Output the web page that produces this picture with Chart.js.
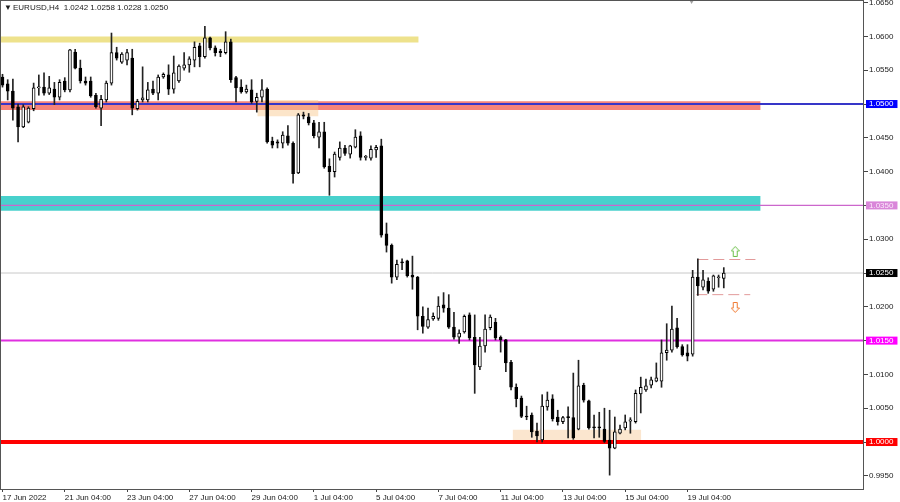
<!DOCTYPE html>
<html>
<head>
<meta charset="utf-8">
<script src="https://cdn.jsdelivr.net/npm/chart.js@4.4.1/dist/chart.umd.min.js"></script>
<style>
  html, body { margin: 0; padding: 0; background: #fff; }
  #wrap { width: 900px; height: 502px; }
</style>
</head>
<body>
<div id="wrap"><canvas id="c" width="900" height="502"></canvas></div>
<script>
const symbol = 'EURUSD,H4';

// x axis labels, one every 12 bars (H4)
const xLabels = ['17 Jun 2022', '21 Jun 04:00', '23 Jun 04:00', '27 Jun 04:00', '29 Jun 04:00', '1 Jul 04:00',
  '5 Jul 04:00', '7 Jul 04:00', '11 Jul 04:00', '13 Jul 04:00', '15 Jul 04:00', '19 Jul 04:00'];
const xLabelBars = [0, 12, 24, 36, 48, 60, 72, 84, 96, 108, 120, 132];

const yTicks = [0.9950, 1.0000, 1.0050, 1.0100, 1.0150, 1.0200, 1.0250, 1.0300, 1.0350,
  1.0400, 1.0450, 1.0500, 1.0550, 1.0600, 1.0650];

const opens = [
  1.0540, 1.0530, 1.0519, 1.0496, 1.0466, 1.0473, 1.0493, 1.0524, 1.0525, 1.0516,
  1.0522, 1.0510, 1.0534, 1.0521, 1.0577, 1.0553, 1.0534, 1.0534, 1.0513, 1.0494,
  1.0506, 1.0531, 1.0576, 1.0562, 1.0565, 1.0568, 1.0493, 1.0506, 1.0506, 1.0522,
  1.0516, 1.0540, 1.0543, 1.0522, 1.0534, 1.0553, 1.0558, 1.0565, 1.0586, 1.0570,
  1.0598, 1.0583, 1.0578, 1.0576, 1.0592, 1.0539, 1.0525, 1.0518, 1.0521, 1.0504,
  1.0510, 1.0522, 1.0445, 1.0444, 1.0442, 1.0453, 1.0442, 1.0398, 1.0484, 1.0481,
  1.0472, 1.0451, 1.0459, 1.0408, 1.0400, 1.0421, 1.0435, 1.0426, 1.0436, 1.0453,
  1.0421, 1.0420, 1.0432, 1.0438, 1.0308, 1.0291, 1.0244, 1.0266, 1.0268, 1.0247,
  1.0244, 1.0186, 1.0170, 1.0182, 1.0183, 1.0203, 1.0198, 1.0170, 1.0155, 1.0163,
  1.0188, 1.0155, 1.0111, 1.0142, 1.0169, 1.0177, 1.0155, 1.0151, 1.0118, 1.0081,
  1.0065, 1.0038, 1.0040, 1.0016, 1.0003, 1.0052, 1.0064, 1.0037, 1.0030, 1.0037,
  1.0036, 1.0019, 1.0084, 1.0061, 1.0022, 1.0022, 1.0019, 1.0003, 0.9991, 1.0013,
  1.0021, 1.0031, 1.0030, 1.0071, 1.0077, 1.0084, 1.0090, 1.0090, 1.0132, 1.0136,
  1.0169, 1.0141, 1.0132, 1.0130, 1.0244, 1.0229, 1.0238, 1.0226, 1.0243, 1.0242
];
const highs = [
  1.0544, 1.0536, 1.0537, 1.0500, 1.0499, 1.0496, 1.0531, 1.0543, 1.0546, 1.0541,
  1.0532, 1.0536, 1.0539, 1.0581, 1.0581, 1.0565, 1.0540, 1.0540, 1.0516, 1.0513,
  1.0534, 1.0605, 1.0584, 1.0576, 1.0581, 1.0581, 1.0507, 1.0555, 1.0532, 1.0534,
  1.0543, 1.0546, 1.0558, 1.0571, 1.0558, 1.0576, 1.0570, 1.0592, 1.0590, 1.0615,
  1.0599, 1.0586, 1.0581, 1.0607, 1.0596, 1.0541, 1.0536, 1.0528, 1.0536, 1.0516,
  1.0536, 1.0524, 1.0451, 1.0447, 1.0459, 1.0468, 1.0444, 1.0486, 1.0488, 1.0486,
  1.0476, 1.0473, 1.0473, 1.0419, 1.0429, 1.0444, 1.0439, 1.0439, 1.0462, 1.0459,
  1.0424, 1.0438, 1.0439, 1.0448, 1.0324, 1.0293, 1.0269, 1.0271, 1.0269, 1.0275,
  1.0245, 1.0200, 1.0198, 1.0191, 1.0215, 1.0221, 1.0218, 1.0192, 1.0166, 1.0188,
  1.0191, 1.0188, 1.0155, 1.0188, 1.0188, 1.0183, 1.0157, 1.0152, 1.0121, 1.0086,
  1.0068, 1.0053, 1.0043, 1.0028, 1.0070, 1.0074, 1.0070, 1.0047, 1.0038, 1.0052,
  1.0102, 1.0121, 1.0087, 1.0062, 1.0040, 1.0044, 1.0050, 1.0047, 1.0037, 1.0025,
  1.0040, 1.0036, 1.0077, 1.0096, 1.0093, 1.0096, 1.0117, 1.0151, 1.0175, 1.0201,
  1.0183, 1.0144, 1.0144, 1.0254, 1.0271, 1.0254, 1.0243, 1.0247, 1.0247, 1.0258
];
const lows = [
  1.0525, 1.0506, 1.0476, 1.0444, 1.0465, 1.0472, 1.0490, 1.0513, 1.0513, 1.0514,
  1.0499, 1.0506, 1.0518, 1.0518, 1.0552, 1.0531, 1.0528, 1.0510, 1.0494, 1.0468,
  1.0503, 1.0528, 1.0565, 1.0560, 1.0558, 1.0484, 1.0491, 1.0503, 1.0503, 1.0514,
  1.0506, 1.0538, 1.0514, 1.0516, 1.0532, 1.0550, 1.0547, 1.0555, 1.0555, 1.0568,
  1.0580, 1.0571, 1.0570, 1.0574, 1.0532, 1.0503, 1.0516, 1.0516, 1.0501, 1.0488,
  1.0503, 1.0442, 1.0435, 1.0435, 1.0435, 1.0439, 1.0383, 1.0397, 1.0478, 1.0469,
  1.0450, 1.0435, 1.0405, 1.0365, 1.0392, 1.0417, 1.0424, 1.0420, 1.0435, 1.0417,
  1.0417, 1.0417, 1.0421, 1.0303, 1.0281, 1.0235, 1.0240, 1.0255, 1.0244, 1.0226,
  1.0166, 1.0161, 1.0168, 1.0180, 1.0180, 1.0192, 1.0168, 1.0152, 1.0146, 1.0161,
  1.0151, 1.0072, 1.0107, 1.0133, 1.0166, 1.0151, 1.0133, 1.0104, 1.0077, 1.0052,
  1.0036, 1.0033, 1.0007, 1.0000, 1.0000, 1.0047, 1.0031, 1.0025, 1.0027, 1.0006,
  1.0004, 1.0018, 1.0059, 1.0019, 1.0006, 1.0007, 0.9999, 0.9951, 0.9990, 1.0012,
  1.0018, 1.0013, 1.0028, 1.0043, 1.0075, 1.0080, 1.0089, 1.0081, 1.0121, 1.0133,
  1.0139, 1.0127, 1.0120, 1.0127, 1.0217, 1.0225, 1.0220, 1.0223, 1.0229, 1.0228
];
const closes = [
  1.0528, 1.0519, 1.0494, 1.0466, 1.0496, 1.0494, 1.0524, 1.0525, 1.0516, 1.0524,
  1.0510, 1.0532, 1.0521, 1.0580, 1.0553, 1.0534, 1.0531, 1.0512, 1.0496, 1.0507,
  1.0531, 1.0576, 1.0568, 1.0574, 1.0576, 1.0494, 1.0504, 1.0509, 1.0521, 1.0516,
  1.0540, 1.0544, 1.0522, 1.0546, 1.0556, 1.0558, 1.0567, 1.0584, 1.0570, 1.0598,
  1.0583, 1.0576, 1.0576, 1.0592, 1.0536, 1.0524, 1.0518, 1.0522, 1.0503, 1.0510,
  1.0521, 1.0444, 1.0439, 1.0442, 1.0454, 1.0442, 1.0397, 1.0484, 1.0482, 1.0472,
  1.0453, 1.0459, 1.0407, 1.0400, 1.0426, 1.0435, 1.0427, 1.0438, 1.0451, 1.0421,
  1.0422, 1.0433, 1.0436, 1.0306, 1.0291, 1.0244, 1.0263, 1.0265, 1.0246, 1.0244,
  1.0186, 1.0171, 1.0181, 1.0186, 1.0201, 1.0198, 1.0170, 1.0155, 1.0161, 1.0186,
  1.0154, 1.0114, 1.0142, 1.0167, 1.0185, 1.0154, 1.0151, 1.0117, 1.0081, 1.0064,
  1.0038, 1.0037, 1.0015, 1.0009, 1.0053, 1.0062, 1.0034, 1.0030, 1.0036, 1.0036,
  1.0006, 1.0083, 1.0062, 1.0021, 1.0021, 1.0021, 1.0001, 0.9991, 1.0015, 1.0019,
  1.0030, 1.0033, 1.0072, 1.0081, 1.0083, 1.0092, 1.0095, 1.0132, 1.0136, 1.0167,
  1.0141, 1.0129, 1.0127, 1.0244, 1.0231, 1.0240, 1.0223, 1.0246, 1.0244, 1.0250
];

// horizontal levels with their price labels
const levelValues = [1.0500, 1.0350, 1.0250, 1.0150, 1.0000];
const levelLineColors = ['#3636c8', '#cc66cc', '#c8c8c8', '#e030e0', '#ff0000'];
const levelLineWidths = [2, 1.3, 1, 2, 4];
const levelLabelBg = ['#0000ff', '#d986d9', '#000000', '#ff00ff', '#ff0000'];
const levelLabelFg = ['#ffffff', '#fbe8fb', '#ffffff', '#ffffff', '#ffffff'];

// rectangles (zones): price range and bar range
const zoneLow = [1.0591, 1.0491, 1.0342, 1.0000, 1.0482];
const zoneHigh = [1.0600, 1.0504, 1.0364, 1.0018, 1.0506];
const zoneFrom = [-1, -1, -1, 98.3, 49.1];
const zoneTo = [80.2, 146.1, 146.1, 123.1, 60.9];
const zoneColors = ['#eee28c', '#f5837a', '#48d1cc', '#fbe6cf', 'rgba(249,204,147,0.5)'];

// dashed range lines near the last bars
const dashLevels = [1.0270, 1.0218];
const dashFrom = [133.9, 133.7];
const dashTo = [145.1, 144.1];

const arrowBars = [141.2, 141.2];
const arrowPrices = [1.0282, 1.0199];
const shiftBar = 132.8;

const xMin = -0.29, xMax = 166.02;
const yMin = 0.99305, yMax = 1.06524;

const FONT = '"Liberation Sans", Arial, sans-serif';
Chart.defaults.font.family = FONT;
Chart.defaults.font.size = 8;

function levelIdx(v) {
  return levelValues.findIndex(l => Math.abs(l - v) < 1e-6);
}

function arrowIcon(color, up) {
  const c = document.createElement('canvas');
  c.width = 9;
  c.height = 11;
  const g = c.getContext('2d');
  if (!up) { g.translate(0, 11); g.scale(1, -1); }
  g.beginPath();
  g.moveTo(4.5, 0.5);
  g.lineTo(8.5, 5);
  g.lineTo(6.5, 5);
  g.lineTo(6.5, 10.5);
  g.lineTo(2.5, 10.5);
  g.lineTo(2.5, 5);
  g.lineTo(0.5, 5);
  g.closePath();
  g.fillStyle = '#fff';
  g.fill();
  g.strokeStyle = color;
  g.lineWidth = 1;
  g.stroke();
  return c;
}

const datasets = [];

zoneLow.forEach((lo, k) => {
  datasets.push({
    type: 'line',
    data: [{ x: zoneFrom[k], y: zoneHigh[k] }, { x: zoneTo[k], y: zoneHigh[k] }],
    fill: { value: lo },
    backgroundColor: zoneColors[k],
    borderWidth: 0,
    pointRadius: 0,
    order: k === 4 ? 15 : 20,
  });
});

levelValues.forEach((v, k) => {
  datasets.push({
    type: 'line',
    data: [{ x: xMin - 1, y: v }, { x: xMax + 1, y: v }],
    borderColor: levelLineColors[k],
    borderWidth: levelLineWidths[k],
    pointRadius: 0,
    fill: false,
    order: 10,
  });
});

dashLevels.forEach((v, k) => {
  datasets.push({
    type: 'line',
    data: [{ x: dashFrom[k], y: v }, { x: dashTo[k], y: v }],
    borderColor: '#e29a9a',
    borderWidth: 1,
    borderDash: [11, 5],
    pointRadius: 0,
    fill: false,
    order: 9,
  });
});

// wicks
datasets.push({
  type: 'bar',
  data: lows.map((l, i) => ({ x: i, y: [l, highs[i]] })),
  barThickness: 1,
  backgroundColor: '#222',
  borderWidth: 0,
  grouped: false,
  order: 2,
});

// bodies
datasets.push({
  type: 'bar',
  data: opens.map((o, i) => ({ x: i, y: [o, closes[i]] })),
  barThickness: 3,
  backgroundColor: opens.map((o, i) => closes[i] >= o ? '#ffffff' : '#000000'),
  borderColor: '#000',
  borderWidth: 1,
  borderSkipped: false,
  minBarLength: 1,
  grouped: false,
  order: 1,
});

datasets.push({
  type: 'scatter',
  data: [{ x: arrowBars[0], y: arrowPrices[0] }],
  pointStyle: arrowIcon('#6cc04a', true),
  order: 0,
});
datasets.push({
  type: 'scatter',
  data: [{ x: arrowBars[1], y: arrowPrices[1] }],
  pointStyle: arrowIcon('#f07a32', false),
  order: 0,
});
datasets.push({
  type: 'scatter',
  data: [{ x: shiftBar, y: yMax }],
  pointStyle: 'triangle',
  rotation: 180,
  pointRadius: 3,
  backgroundColor: '#a0a0a0',
  borderWidth: 0,
  clip: false,
  order: 0,
});

const last = opens.length - 1;
const header = symbol + '  ' + [opens[last], highs[last], lows[last], closes[last]].map(v => v.toFixed(4)).join(' ');

const frame = {
  id: 'frame',
  afterDraw(chart) {
    const { ctx, chartArea: a } = chart;
    ctx.save();
    ctx.strokeStyle = '#555';
    ctx.lineWidth = 1;
    ctx.strokeRect(a.left - 0.5, a.top - 0.5, a.right - a.left, a.bottom - a.top + 1);
    ctx.font = '8px ' + FONT;
    ctx.fillStyle = '#1a1a1a';
    ctx.textBaseline = 'middle';
    ctx.fillText('\u25BC', 4, 8);
    ctx.fillText(header, 13, 8);
    ctx.restore();
  }
};

function noPad(s) {
  s.paddingTop = 0;
  s.paddingBottom = 0;
  s.paddingLeft = 0;
  s.paddingRight = 0;
}

new Chart(document.getElementById('c'), {
  type: 'bar',
  data: { datasets },
  plugins: [frame],
  options: {
    responsive: false,
    devicePixelRatio: 1,
    animation: false,
    events: [],
    layout: { autoPadding: false, padding: { left: 1, top: 1, right: 0, bottom: 0 } },
    plugins: { legend: { display: false }, tooltip: { enabled: false } },
    scales: {
      x: {
        type: 'linear',
        min: xMin,
        max: xMax,
        offset: false,
        afterBuildTicks: s => { s.ticks = xLabelBars.map(v => ({ value: v })); },
        afterFit: s => { s.height = 13; noPad(s); },
        grid: { drawOnChartArea: false, drawTicks: true, tickLength: 3, color: '#444', offset: false },
        border: { display: false },
        ticks: {
          align: 'start',
          maxRotation: 0,
          autoSkip: false,
          padding: 1,
          color: '#1a1a1a',
          callback: v => xLabels[xLabelBars.indexOf(v)] || '',
        },
      },
      y: {
        type: 'linear',
        position: 'right',
        min: yMin,
        max: yMax,
        afterBuildTicks: s => { s.ticks = yTicks.map(v => ({ value: v })); },
        afterFit: s => { s.width = 36; noPad(s); },
        grid: { drawOnChartArea: false, drawTicks: true, tickLength: 4, color: '#444' },
        border: { display: false },
        ticks: {
          autoSkip: false,
          padding: 1,
          font: { size: 8, lineHeight: 1 },
          callback: v => Number(v).toFixed(4),
          color: c => { const k = levelIdx(c.tick.value); return k >= 0 ? levelLabelFg[k] : '#1a1a1a'; },
          showLabelBackdrop: c => levelIdx(c.tick.value) >= 0,
          backdropColor: c => { const k = levelIdx(c.tick.value); return k >= 0 ? levelLabelBg[k] : 'rgba(0,0,0,0)'; },
          backdropPadding: { left: 3, right: 4, top: 0, bottom: 0 },
        },
      },
    },
  },
});
</script>
</body>
</html>
